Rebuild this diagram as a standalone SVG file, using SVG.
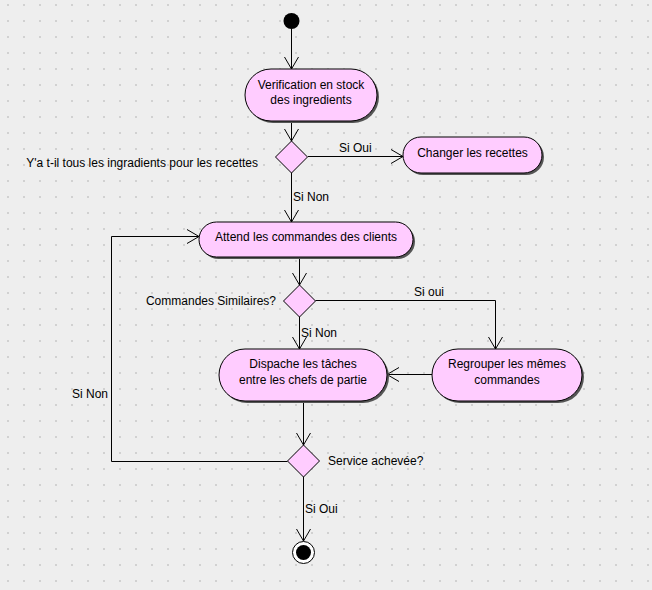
<svg xmlns="http://www.w3.org/2000/svg" width="652" height="590" viewBox="0 0 652 590">
<defs>
<pattern id="grid" x="0" y="-3" width="16" height="16" patternUnits="userSpaceOnUse">
<circle cx="8" cy="8" r="0.9" fill="#c4c4c4"/>
</pattern>
<marker id="arr" viewBox="0 0 14 16" refX="13" refY="8" markerWidth="14" markerHeight="16" markerUnits="userSpaceOnUse" orient="auto">
<path d="M1,1 L13,8 L1,15" fill="none" stroke="#000" stroke-width="1"/>
</marker>
<style>
.act{fill:#ffccff;stroke:#000;stroke-width:1}
.sh{fill:#555;}
.dec{fill:#ffccff;stroke:#000;stroke-width:1}
.t{font-family:"Liberation Sans",Arial,sans-serif;font-size:12px;fill:#000}
.c{text-anchor:middle}
.e{fill:none;stroke:#000;stroke-width:1}
</style>
</defs>
<rect width="652" height="590" fill="#eeeeee"/>
<rect width="652" height="590" fill="url(#grid)"/>

<g id="connectors">
<path class="e" d="M291.5,29 L291.5,69" marker-end="url(#arr)"/>
<path class="e" d="M291.5,121 L291.5,141" marker-end="url(#arr)"/>
<path class="e" d="M308,156.5 L403,156.5" marker-end="url(#arr)"/>
<path class="e" d="M291.5,173 L291.5,222" marker-end="url(#arr)"/>
<path class="e" d="M299.5,257 L299.5,285" marker-end="url(#arr)"/>
<path class="e" d="M315.5,300.5 L495.5,300.5 L495.5,349" marker-end="url(#arr)"/>
<path class="e" d="M299.5,316.5 L299.5,349" marker-end="url(#arr)"/>
<path class="e" d="M432,374.5 L387,374.5" marker-end="url(#arr)"/>
<path class="e" d="M303.5,402 L303.5,445" marker-end="url(#arr)"/>
<path class="e" d="M287.5,461.5 L111.5,461.5 L111.5,236.5 L199,236.5" marker-end="url(#arr)"/>
<path class="e" d="M303.5,477 L303.5,541" marker-end="url(#arr)"/>
<text class="t" x="339" y="152">Si Oui</text>
<text class="t" x="293" y="201">Si Non</text>
<text class="t" x="414" y="296">Si oui</text>
<text class="t" x="301" y="337">Si Non</text>
<text class="t" x="72" y="398">Si Non</text>
<text class="t" x="305" y="513">Si Oui</text>
</g>

<g id="start">
<circle cx="291.5" cy="21" r="8" fill="#000"/>
</g>

<g id="verif">
<rect class="sh" x="247" y="71" width="132" height="52" rx="26"/>
<rect class="act" x="245" y="69" width="132" height="52" rx="26"/>
<text class="t c" x="311" y="89">Verification en stock</text>
<text class="t c" x="311" y="104">des ingredients</text>
</g>

<g id="dec1">
<path class="dec" d="M291.5,141 L307.5,157 L291.5,173 L275.5,157 Z"/>
<text class="t" x="258" y="167" text-anchor="end">Y'a t-il tous les ingradients pour les recettes</text>
</g>

<g id="changer">
<rect class="sh" x="405" y="139" width="139" height="36" rx="18"/>
<rect class="act" x="403" y="137" width="139" height="36" rx="18"/>
<text class="t c" x="472.5" y="157">Changer les recettes</text>
</g>

<g id="attend">
<rect class="sh" x="201" y="224" width="214" height="35" rx="17.5"/>
<rect class="act" x="199" y="222" width="214" height="35" rx="17.5"/>
<text class="t c" x="306" y="241">Attend les commandes des clients</text>
</g>

<g id="dec2">
<path class="dec" d="M299.5,285 L315.5,301 L299.5,317 L283.5,301 Z"/>
<text class="t" x="276" y="305" text-anchor="end">Commandes Similaires?</text>
</g>

<g id="dispache">
<rect class="sh" x="221" y="351" width="168" height="52" rx="26"/>
<rect class="act" x="219" y="349" width="168" height="52" rx="26"/>
<text class="t c" x="303" y="368">Dispache les tâches</text>
<text class="t c" x="303" y="384">entre les chefs de partie</text>
</g>

<g id="regrouper">
<rect class="sh" x="434" y="351" width="150" height="52" rx="26"/>
<rect class="act" x="432" y="349" width="150" height="52" rx="26"/>
<text class="t c" x="507" y="368">Regrouper les mêmes</text>
<text class="t c" x="507" y="384">commandes</text>
</g>

<g id="dec3">
<path class="dec" d="M303.5,445 L319.5,461 L303.5,477 L287.5,461 Z"/>
<text class="t" x="328" y="465">Service achevée?</text>
</g>

<g id="end">
<circle cx="303.5" cy="552.5" r="11" fill="#fff" stroke="#000" stroke-width="1"/>
<circle cx="303.5" cy="552.5" r="7.5" fill="#000"/>
</g>
</svg>
